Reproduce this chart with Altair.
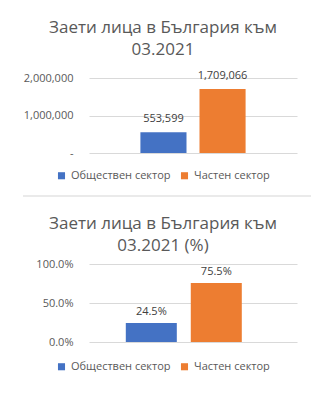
import altair as alt
import pandas as pd

sectors = ["Обществен сектор", "Частен сектор"]
counts = [553599, 1709066]
shares = [0.245, 0.755]
colors = ["#4472C4", "#ED7D31"]
count_ticks = [0, 1000000, 2000000]
share_ticks = [0, 0.5, 1.0]
title_top = ["Заети лица в България към", "03.2021"]
title_bottom = ["Заети лица в България към", "03.2021 (%)"]

df = pd.DataFrame({"sector": sectors, "count": counts, "share": shares})

FONT = "Open Sans"
GRAY = "#595959"
DARK = "#404040"
NB = "\u00a0"


def panel(title, field, domain, ticks, fmt, label_expr, height, pad_in, pad_out, align,
          dy, legend_y, with_rule, title_offset, title_dx):
    color = alt.Color(
        "sector:N",
        sort=sectors,
        scale=alt.Scale(domain=sectors, range=colors),
        legend=alt.Legend(
            title=None, orient="none", legendX=-33, legendY=legend_y,
            direction="horizontal", symbolType="square", symbolSize=50,
            symbolStrokeWidth=0, labelFontSize=11, labelColor=GRAY,
            labelFont=FONT, columnPadding=8, labelOffset=4, labelLimit=300,
        ),
    )
    x = alt.X("sector:N", sort=sectors, axis=None,
              scale=alt.Scale(paddingInner=pad_in, paddingOuter=pad_out, align=align))
    y = alt.Y(
        f"{field}:Q",
        scale=alt.Scale(domain=domain, nice=False),
        axis=alt.Axis(
            values=ticks, labelExpr=label_expr, title=None, domain=False,
            ticks=False, grid=True, gridColor="#D9D9D9", gridWidth=1,
            labelFontSize=11, labelColor=GRAY, labelFont=FONT, labelPadding=16,
            minExtent=66, maxExtent=66,
        ),
    )
    base = alt.Chart(df)
    bars = base.mark_bar().encode(x=x, y=y, color=color)
    text = base.mark_text(baseline="bottom", dy=dy, fontSize=11, font=FONT, color=DARK).encode(
        x=x, y=y, text=alt.Text(f"{field}:Q", format=fmt)
    )
    layers = [bars, text]
    if with_rule:
        rule = base.mark_rule(color="#E3E3E3", strokeWidth=1).encode(
            x=alt.value(-66), x2=alt.value(222), y=alt.value(height + 43)
        )
        layers.append(rule)
    return alt.layer(*layers).properties(
        width=208, height=height,
        title=alt.TitleParams(
            text=title, font=FONT, fontSize=17, fontWeight="normal", color=GRAY,
            anchor="middle", frame="bounds", lineHeight=22, offset=title_offset, dx=title_dx,
        ),
    )


top = panel(title_top, "count", [0, 2000000], count_ticks, ",",
            f"datum.value == 0 ? '-{NB}{NB}' : format(datum.value, ',')",
            75, 0.22, 0.87, 0.5, -8, 92, True, 11, -4)
bottom = panel(title_bottom, "share", [0, 1], share_ticks, ".1%",
               "format(datum.value, '.1%')",
               78, 0.215, 0.708, 0.4, -6, 97, False, 3, 3)

chart = alt.vconcat(top, bottom, spacing=18).resolve_scale(color="independent").resolve_legend(
    color="independent"
).configure(padding={"left": 22, "top": 18, "right": 0, "bottom": 0}).configure_view(stroke=None)

chart.save("out.html", embed_options={"renderer": "svg", "actions": False})
